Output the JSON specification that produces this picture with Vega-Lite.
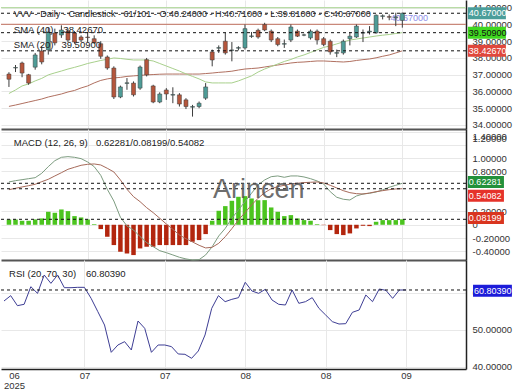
{
"$schema": "https://vega.github.io/schema/vega-lite/v6.json",
"padding": 0,
"autosize": {"type": "pad"},
"background": "white",
"spacing": 0,
"bounds": "flush",
"resolve": {"scale": {"color": "independent"}},
"config": {
  "font": "Liberation Sans",
  "view": {"stroke": null},
  "axis": {"labelFont": "Liberation Sans", "labelFontSize": 9.5, "labelColor": "#333", "ticks": false, "gridColor": "#e8e8e8", "domainColor": "#222", "domainWidth": 1.5, "labelOverlap": false, "labelFlush": false, "labelBound": false}
},
"datasets": {
  "d": [
    {"i":0,"o":37.04,"h":37.15,"l":36.27,"c":36.73,"s20":35.88,"s40":35.11,"m":0.643,"sg":0.527,"hs":0.08,"r":57.83},
    {"i":1,"o":37.40,"h":37.58,"l":37.16,"c":37.43,"s20":36.09,"s40":35.19,"m":0.662,"sg":0.548,"hs":0.08,"r":59.27},
    {"i":2,"o":37.70,"h":37.78,"l":36.85,"c":37.10,"s20":36.33,"s40":35.28,"m":0.677,"sg":0.568,"hs":0.06,"r":56.57},
    {"i":3,"o":37.00,"h":37.05,"l":36.40,"c":36.50,"s20":36.45,"s40":35.37,"m":0.692,"sg":0.587,"hs":0.06,"r":56.93},
    {"i":4,"o":37.45,"h":38.30,"l":37.30,"c":38.18,"s20":36.63,"s40":35.46,"m":0.707,"sg":0.608,"hs":0.08,"r":61.70},
    {"i":5,"o":38.42,"h":38.70,"l":37.62,"c":37.76,"s20":36.78,"s40":35.55,"m":0.773,"sg":0.647,"hs":0.095,"r":59.90},
    {"i":6,"o":38.48,"h":39.80,"l":38.20,"c":39.55,"s20":36.99,"s40":35.67,"m":0.873,"sg":0.683,"hs":0.195,"r":64.86},
    {"i":7,"o":39.49,"h":39.75,"l":38.75,"c":38.90,"s20":37.11,"s40":35.76,"m":0.962,"sg":0.733,"hs":0.18,"r":62.60},
    {"i":8,"o":39.37,"h":39.95,"l":39.20,"c":39.67,"s20":37.22,"s40":35.85,"m":1.013,"sg":0.782,"hs":0.23,"r":64.86},
    {"i":9,"o":39.61,"h":39.75,"l":38.95,"c":39.07,"s20":37.34,"s40":35.97,"m":1.023,"sg":0.833,"hs":0.205,"r":61.43},
    {"i":10,"o":39.49,"h":39.60,"l":38.85,"c":38.95,"s20":37.44,"s40":36.06,"m":1.013,"sg":0.863,"hs":0.13,"r":61.43},
    {"i":11,"o":39.25,"h":39.35,"l":38.95,"c":39.07,"s20":37.55,"s40":36.21,"m":0.993,"sg":0.893,"hs":0.11,"r":61.52},
    {"i":12,"o":39.25,"h":39.55,"l":38.95,"c":39.22,"s20":37.67,"s40":36.33,"m":0.943,"sg":0.908,"hs":0.08,"r":61.52},
    {"i":13,"o":39.15,"h":39.35,"l":38.85,"c":38.90,"s20":37.76,"s40":36.51,"m":0.873,"sg":0.913,"hs":0.01,"r":58.55},
    {"i":14,"o":38.85,"h":39.00,"l":37.95,"c":38.10,"s20":37.85,"s40":36.66,"m":0.743,"sg":0.898,"hs":-0.065,"r":54.95},
    {"i":15,"o":38.06,"h":38.15,"l":37.30,"c":37.40,"s20":37.92,"s40":36.75,"m":0.533,"sg":0.848,"hs":-0.18,"r":51.34},
    {"i":16,"o":37.40,"h":37.50,"l":35.55,"c":35.67,"s20":38.00,"s40":36.81,"m":0.357,"sg":0.793,"hs":-0.305,"r":43.96},
    {"i":17,"o":35.67,"h":36.35,"l":35.60,"c":36.27,"s20":37.97,"s40":36.84,"m":0.113,"sg":0.673,"hs":-0.405,"r":45.94},
    {"i":18,"o":36.48,"h":36.80,"l":36.10,"c":36.52,"s20":37.92,"s40":36.90,"m":-0.018,"sg":0.533,"hs":-0.43,"r":46.84},
    {"i":19,"o":36.50,"h":36.60,"l":35.70,"c":35.80,"s20":37.88,"s40":36.93,"m":-0.078,"sg":0.422,"hs":-0.455,"r":44.59},
    {"i":20,"o":36.20,"h":37.55,"l":36.10,"c":37.46,"s20":37.88,"s40":36.96,"m":-0.178,"sg":0.347,"hs":-0.355,"r":52.42},
    {"i":21,"o":37.90,"h":38.00,"l":36.90,"c":36.99,"s20":37.88,"s40":36.99,"m":-0.268,"sg":0.257,"hs":-0.33,"r":50.44},
    {"i":22,"o":36.33,"h":36.40,"l":35.30,"c":35.37,"s20":37.82,"s40":37.01,"m":-0.329,"sg":0.182,"hs":-0.33,"r":43.96},
    {"i":23,"o":35.37,"h":35.95,"l":35.30,"c":35.85,"s20":37.67,"s40":37.03,"m":-0.389,"sg":0.098,"hs":-0.305,"r":45.94},
    {"i":24,"o":36.09,"h":36.20,"l":35.50,"c":35.85,"s20":37.52,"s40":37.04,"m":-0.419,"sg":0.012,"hs":-0.305,"r":45.94},
    {"i":25,"o":35.78,"h":36.25,"l":35.30,"c":35.82,"s20":37.37,"s40":37.04,"m":-0.453,"sg":-0.068,"hs":-0.305,"r":45.49},
    {"i":26,"o":35.80,"h":35.90,"l":35.10,"c":35.25,"s20":37.22,"s40":37.04,"m":-0.488,"sg":-0.153,"hs":-0.305,"r":43.51},
    {"i":27,"o":35.50,"h":35.60,"l":34.95,"c":35.10,"s20":37.05,"s40":37.04,"m":-0.513,"sg":-0.209,"hs":-0.305,"r":43.42},
    {"i":28,"o":35.06,"h":35.20,"l":34.50,"c":35.10,"s20":36.90,"s40":37.04,"m":-0.529,"sg":-0.258,"hs":-0.255,"r":42.34},
    {"i":29,"o":35.10,"h":35.40,"l":35.00,"c":35.30,"s20":36.75,"s40":37.04,"m":-0.524,"sg":-0.308,"hs":-0.23,"r":44.32},
    {"i":30,"o":35.60,"h":36.50,"l":35.50,"c":36.27,"s20":36.57,"s40":37.07,"m":-0.453,"sg":-0.348,"hs":-0.14,"r":48.64},
    {"i":31,"o":38.36,"h":38.50,"l":37.50,"c":37.88,"s20":36.51,"s40":37.10,"m":-0.329,"sg":-0.338,"hs":0.06,"r":55.85},
    {"i":32,"o":38.58,"h":38.75,"l":38.30,"c":38.62,"s20":36.51,"s40":37.14,"m":-0.168,"sg":-0.278,"hs":0.21,"r":59.27},
    {"i":33,"o":39.00,"h":39.50,"l":38.20,"c":38.30,"s20":36.51,"s40":37.17,"m":-0.053,"sg":-0.178,"hs":0.28,"r":57.65},
    {"i":34,"o":38.45,"h":38.95,"l":37.80,"c":38.48,"s20":36.51,"s40":37.21,"m":0.098,"sg":-0.058,"hs":0.36,"r":58.28},
    {"i":35,"o":38.58,"h":38.70,"l":38.45,"c":38.62,"s20":36.63,"s40":37.28,"m":0.222,"sg":0.072,"hs":0.42,"r":58.73},
    {"i":36,"o":38.60,"h":40.00,"l":38.50,"c":39.75,"s20":36.78,"s40":37.34,"m":0.347,"sg":0.182,"hs":0.43,"r":62.88},
    {"i":37,"o":39.28,"h":39.55,"l":39.20,"c":39.32,"s20":36.93,"s40":37.37,"m":0.473,"sg":0.297,"hs":0.395,"r":60.53},
    {"i":38,"o":39.65,"h":39.75,"l":39.15,"c":39.25,"s20":37.16,"s40":37.40,"m":0.598,"sg":0.398,"hs":0.37,"r":59.90},
    {"i":39,"o":40.00,"h":40.10,"l":39.60,"c":39.67,"s20":37.34,"s40":37.46,"m":0.673,"sg":0.482,"hs":0.37,"r":60.98},
    {"i":40,"o":39.60,"h":39.70,"l":38.95,"c":39.07,"s20":37.49,"s40":37.52,"m":0.722,"sg":0.542,"hs":0.26,"r":58.10},
    {"i":41,"o":39.15,"h":39.25,"l":38.70,"c":38.80,"s20":37.64,"s40":37.58,"m":0.733,"sg":0.572,"hs":0.195,"r":56.93},
    {"i":42,"o":38.82,"h":39.10,"l":38.60,"c":38.86,"s20":37.79,"s40":37.64,"m":0.713,"sg":0.593,"hs":0.13,"r":56.75},
    {"i":43,"o":39.07,"h":40.00,"l":38.95,"c":39.85,"s20":37.91,"s40":37.70,"m":0.733,"sg":0.613,"hs":0.145,"r":60.80},
    {"i":44,"o":39.60,"h":39.70,"l":39.25,"c":39.30,"s20":38.06,"s40":37.74,"m":0.733,"sg":0.623,"hs":0.095,"r":57.20},
    {"i":45,"o":39.36,"h":39.45,"l":39.30,"c":39.38,"s20":38.18,"s40":37.76,"m":0.718,"sg":0.633,"hs":0.07,"r":57.65},
    {"i":46,"o":39.20,"h":39.70,"l":39.10,"c":39.60,"s20":38.33,"s40":37.79,"m":0.692,"sg":0.638,"hs":0.06,"r":58.73},
    {"i":47,"o":39.60,"h":39.70,"l":38.80,"c":39.07,"s20":38.48,"s40":37.82,"m":0.658,"sg":0.643,"hs":0.01,"r":55.85},
    {"i":48,"o":39.15,"h":39.25,"l":38.70,"c":38.80,"s20":38.63,"s40":37.82,"m":0.613,"sg":0.628,"hs":-0.005,"r":54.05},
    {"i":49,"o":39.00,"h":39.10,"l":38.20,"c":38.36,"s20":38.72,"s40":37.80,"m":0.497,"sg":0.593,"hs":-0.08,"r":52.25},
    {"i":50,"o":38.28,"h":38.50,"l":38.05,"c":38.32,"s20":38.84,"s40":37.78,"m":0.413,"sg":0.553,"hs":-0.14,"r":51.61},
    {"i":51,"o":38.30,"h":39.10,"l":38.20,"c":39.00,"s20":38.96,"s40":37.76,"m":0.383,"sg":0.512,"hs":-0.155,"r":51.70},
    {"i":52,"o":39.15,"h":39.55,"l":38.75,"c":39.30,"s20":39.07,"s40":37.79,"m":0.372,"sg":0.482,"hs":-0.13,"r":54.77},
    {"i":53,"o":39.25,"h":40.00,"l":39.20,"c":39.90,"s20":39.13,"s40":37.85,"m":0.432,"sg":0.467,"hs":-0.055,"r":55.40},
    {"i":54,"o":39.48,"h":39.70,"l":38.95,"c":39.52,"s20":39.19,"s40":37.90,"m":0.462,"sg":0.462,"hs":-0.015,"r":59.45},
    {"i":55,"o":39.55,"h":39.90,"l":39.40,"c":39.60,"s20":39.25,"s40":37.94,"m":0.473,"sg":0.477,"hs":-0.02,"r":57.65},
    {"i":56,"o":39.50,"h":40.60,"l":39.45,"c":40.55,"s20":39.31,"s40":38.01,"m":0.492,"sg":0.497,"hs":0.045,"r":61.07},
    {"i":57,"o":40.48,"h":40.60,"l":40.30,"c":40.52,"s20":39.36,"s40":38.10,"m":0.523,"sg":0.512,"hs":0.07,"r":60.71},
    {"i":58,"o":40.47,"h":40.60,"l":40.25,"c":40.43,"s20":39.40,"s40":38.18,"m":0.563,"sg":0.527,"hs":0.07,"r":58.55},
    {"i":59,"o":40.40,"h":40.70,"l":39.90,"c":40.45,"s20":39.46,"s40":38.30,"m":0.593,"sg":0.538,"hs":0.07,"r":60.80},
    {"i":60,"o":40.24,"h":40.71,"l":39.81,"c":40.67,"s20":39.509,"s40":38.4267,"m":0.62281,"sg":0.54082,"hs":0.08199,"r":60.8039}
  ],
  "lv": [{"v":41.0,"k":"g"},{"v":40.0,"k":"b"}],
  "pt": [
    {"v":40.67,"at":40.67,"t":"40.67000","k":"p1"},
    {"v":39.509,"at":39.509,"t":"39.50900","k":"p2"},
    {"v":38.4267,"at":38.4267,"t":"38.42670","k":"p3"}
  ],
  "mt": [
    {"v":0.62281,"at":0.643,"t":"0.62281","k":"m1"},
    {"v":0.54082,"at":0.437,"t":"0.54082","k":"m2"},
    {"v":0.08199,"at":0.102,"t":"0.08199","k":"m3"}
  ],
  "rt": [{"v":60.8039,"at":60.61,"t":"60.80390","k":"r1"}]
},
"vconcat": [
 {
  "width": 465, "height": 129,
  "layer": [
   {"data": {"name": "lv"}, "mark": {"type": "rule", "strokeWidth": 1.2},
    "encoding": {
     "y": {"field": "v", "type": "quantitative", "title": null, "scale": {"domain": [33.76, 41.46], "nice": false, "zero": false},
           "axis": {"orient": "right", "values": [34,35,36,37,38,39,40,41], "format": ".5f", "grid": true, "labelPadding": 6, "labelOverlap": false}},
     "color": {"field": "k", "type": "nominal", "legend": null, "scale": {"domain": ["g","b","p1","p2","p3"], "range": ["#b9dca6","#c9887a","#4a9e9a","#3fd81f","#e0473c"]}}}},
   {"data": {"name": "d"}, "mark": {"type": "line", "color": "#b07060", "strokeWidth": 1},
    "encoding": {
     "x": {"field": "i", "type": "quantitative", "title": null, "scale": {"domain": [-0.45, 68.95], "nice": false, "zero": false},
           "axis": {"values": [12,24,36,48,60], "labels": false, "grid": true, "domainColor": "#555", "domainWidth": 2}},
     "y": {"field": "s40", "type": "quantitative", "title": null, "scale": {"domain": [33.76, 41.46], "nice": false, "zero": false},
           "axis": {"orient": "right", "values": [34,35,36,37,38,39,40,41], "format": ".5f", "grid": true, "labelPadding": 6, "labelOverlap": false}}}},
   {"data": {"name": "d"}, "mark": {"type": "line", "color": "#a8d08c", "strokeWidth": 1},
    "encoding": {
     "x": {"field": "i", "type": "quantitative", "title": null, "scale": {"domain": [-0.45, 68.95], "nice": false, "zero": false},
           "axis": {"values": [12,24,36,48,60], "labels": false, "grid": true, "domainColor": "#555", "domainWidth": 2}},
     "y": {"field": "s20", "type": "quantitative", "title": null, "scale": {"domain": [33.76, 41.46], "nice": false, "zero": false},
           "axis": {"orient": "right", "values": [34,35,36,37,38,39,40,41], "format": ".5f", "grid": true, "labelPadding": 6, "labelOverlap": false}}}},
   {"data": {"values": [{"t": "40.67000"}]}, "mark": {"type": "text", "align": "left", "baseline": "middle", "fontSize": 9, "color": "#8c8ce6"},
    "encoding": {
     "x": {"datum": 58.2, "type": "quantitative", "title": null, "scale": {"domain": [-0.45, 68.95], "nice": false, "zero": false},
           "axis": {"values": [12,24,36,48,60], "labels": false, "grid": true, "domainColor": "#555", "domainWidth": 2}},
     "y": {"datum": 40.39, "type": "quantitative", "title": null, "scale": {"domain": [33.76, 41.46], "nice": false, "zero": false},
           "axis": {"orient": "right", "values": [34,35,36,37,38,39,40,41], "format": ".5f", "grid": true, "labelPadding": 6, "labelOverlap": false}},
     "text": {"field": "t"}}},
   {"data": {"name": "d"}, "mark": {"type": "rule", "color": "#3c3c3c", "strokeWidth": 1},
    "encoding": {
     "x": {"field": "i", "type": "quantitative", "title": null, "scale": {"domain": [-0.45, 68.95], "nice": false, "zero": false},
           "axis": {"values": [12,24,36,48,60], "labels": false, "grid": true, "domainColor": "#555", "domainWidth": 2}},
     "y": {"field": "l", "type": "quantitative", "title": null, "scale": {"domain": [33.76, 41.46], "nice": false, "zero": false},
           "axis": {"orient": "right", "values": [34,35,36,37,38,39,40,41], "format": ".5f", "grid": true, "labelPadding": 6, "labelOverlap": false}},
     "y2": {"field": "h"}}},
   {"data": {"name": "d"}, "mark": {"type": "bar", "size": 4, "stroke": "#3c3c3c", "strokeWidth": 0.5},
    "encoding": {
     "x": {"field": "i", "type": "quantitative", "title": null, "scale": {"domain": [-0.45, 68.95], "nice": false, "zero": false},
           "axis": {"values": [12,24,36,48,60], "labels": false, "grid": true, "domainColor": "#555", "domainWidth": 2}},
     "y": {"field": "o", "type": "quantitative", "title": null, "scale": {"domain": [33.76, 41.46], "nice": false, "zero": false},
           "axis": {"orient": "right", "values": [34,35,36,37,38,39,40,41], "format": ".5f", "grid": true, "labelPadding": 6, "labelOverlap": false}},
     "y2": {"field": "c"},
     "color": {"condition": {"test": "datum.c >= datum.o", "value": "#4e9c97"}, "value": "#b5563c"}}},
   {"data": {"name": "pt"}, "mark": {"type": "rule", "strokeDash": [3,3], "color": "#111", "strokeWidth": 1},
    "encoding": {"y": {"field": "v", "type": "quantitative", "title": null, "scale": {"domain": [33.76, 41.46], "nice": false, "zero": false},
           "axis": {"orient": "right", "values": [34,35,36,37,38,39,40,41], "format": ".5f", "grid": true, "labelPadding": 6, "labelOverlap": false}}}},
   {"data": {"name": "pt"}, "mark": {"type": "rule", "strokeWidth": 12},
    "encoding": {
     "x": {"datum": 70.0, "type": "quantitative", "title": null, "scale": {"domain": [-0.45, 68.95], "nice": false, "zero": false},
           "axis": {"values": [12,24,36,48,60], "labels": false, "grid": true, "domainColor": "#555", "domainWidth": 2}},
     "x2": {"datum": 75.8},
     "y": {"field": "at", "type": "quantitative", "title": null, "scale": {"domain": [33.76, 41.46], "nice": false, "zero": false},
           "axis": {"orient": "right", "values": [34,35,36,37,38,39,40,41], "format": ".5f", "grid": true, "labelPadding": 6, "labelOverlap": false}},
     "color": {"field": "k", "type": "nominal", "legend": null, "scale": {"domain": ["g","b","p1","p2","p3"], "range": ["#b9dca6","#c9887a","#4a9e9a","#3fd81f","#e0473c"]}}}},
   {"data": {"name": "pt"}, "mark": {"type": "text", "align": "left", "baseline": "middle", "fontSize": 9},
    "encoding": {
     "x": {"datum": 70.15, "type": "quantitative", "title": null, "scale": {"domain": [-0.45, 68.95], "nice": false, "zero": false},
           "axis": {"values": [12,24,36,48,60], "labels": false, "grid": true, "domainColor": "#555", "domainWidth": 2}},
     "y": {"field": "at", "type": "quantitative", "title": null, "scale": {"domain": [33.76, 41.46], "nice": false, "zero": false},
           "axis": {"orient": "right", "values": [34,35,36,37,38,39,40,41], "format": ".5f", "grid": true, "labelPadding": 6, "labelOverlap": false}},
     "text": {"field": "t"},
     "color": {"condition": {"test": "datum.k == 'p2'", "value": "#111"}, "value": "white"}}},
   {"data": {"values": [{"t": "VVV - Daily - Candlestick - 61/101 - O:40.24000 - H:40.71000 - L:39.81000 - C:40.67000", "a": "SMA (40)", "b": "38.42670", "c2": "SMA (20)", "d2": "39.50900"}]},
    "layer": [
     {"mark": {"type": "text", "align": "left", "baseline": "middle", "fontSize": 9.1, "color": "#222"},
      "encoding": {
       "x": {"datum": 0.75, "type": "quantitative", "title": null, "scale": {"domain": [-0.45, 68.95], "nice": false, "zero": false},
             "axis": {"values": [12,24,36,48,60], "labels": false, "grid": true, "domainColor": "#555", "domainWidth": 2}},
       "y": {"datum": 40.65, "type": "quantitative", "title": null, "scale": {"domain": [33.76, 41.46], "nice": false, "zero": false},
             "axis": {"orient": "right", "values": [34,35,36,37,38,39,40,41], "format": ".5f", "grid": true, "labelPadding": 6, "labelOverlap": false}},
       "text": {"field": "t"}}},
     {"mark": {"type": "text", "align": "left", "baseline": "middle", "fontSize": 9.5, "color": "#222"},
      "encoding": {
       "x": {"datum": 0.75, "type": "quantitative", "title": null, "scale": {"domain": [-0.45, 68.95], "nice": false, "zero": false},
             "axis": {"values": [12,24,36,48,60], "labels": false, "grid": true, "domainColor": "#555", "domainWidth": 2}},
       "y": {"datum": 39.67, "type": "quantitative", "title": null, "scale": {"domain": [33.76, 41.46], "nice": false, "zero": false},
             "axis": {"orient": "right", "values": [34,35,36,37,38,39,40,41], "format": ".5f", "grid": true, "labelPadding": 6, "labelOverlap": false}},
       "text": {"field": "a"}}},
     {"mark": {"type": "text", "align": "left", "baseline": "middle", "fontSize": 9.5, "color": "#222"},
      "encoding": {
       "x": {"datum": 8.3, "type": "quantitative", "title": null, "scale": {"domain": [-0.45, 68.95], "nice": false, "zero": false},
             "axis": {"values": [12,24,36,48,60], "labels": false, "grid": true, "domainColor": "#555", "domainWidth": 2}},
       "y": {"datum": 39.67, "type": "quantitative", "title": null, "scale": {"domain": [33.76, 41.46], "nice": false, "zero": false},
             "axis": {"orient": "right", "values": [34,35,36,37,38,39,40,41], "format": ".5f", "grid": true, "labelPadding": 6, "labelOverlap": false}},
       "text": {"field": "b"}}},
     {"mark": {"type": "text", "align": "left", "baseline": "middle", "fontSize": 9.5, "color": "#222"},
      "encoding": {
       "x": {"datum": 0.75, "type": "quantitative", "title": null, "scale": {"domain": [-0.45, 68.95], "nice": false, "zero": false},
             "axis": {"values": [12,24,36,48,60], "labels": false, "grid": true, "domainColor": "#555", "domainWidth": 2}},
       "y": {"datum": 38.78, "type": "quantitative", "title": null, "scale": {"domain": [33.76, 41.46], "nice": false, "zero": false},
             "axis": {"orient": "right", "values": [34,35,36,37,38,39,40,41], "format": ".5f", "grid": true, "labelPadding": 6, "labelOverlap": false}},
       "text": {"field": "c2"}}},
     {"mark": {"type": "text", "align": "left", "baseline": "middle", "fontSize": 9.5, "color": "#222"},
      "encoding": {
       "x": {"datum": 8.0, "type": "quantitative", "title": null, "scale": {"domain": [-0.45, 68.95], "nice": false, "zero": false},
             "axis": {"values": [12,24,36,48,60], "labels": false, "grid": true, "domainColor": "#555", "domainWidth": 2}},
       "y": {"datum": 38.78, "type": "quantitative", "title": null, "scale": {"domain": [33.76, 41.46], "nice": false, "zero": false},
             "axis": {"orient": "right", "values": [34,35,36,37,38,39,40,41], "format": ".5f", "grid": true, "labelPadding": 6, "labelOverlap": false}},
       "text": {"field": "d2"}}}
    ]}
  ]
 },
 {
  "width": 465, "height": 131,
  "layer": [
   {"data": {"name": "d"}, "mark": {"type": "bar", "size": 4.5},
    "encoding": {
     "x": {"field": "i", "type": "quantitative", "title": null, "scale": {"domain": [-0.45, 68.95], "nice": false, "zero": false},
           "axis": {"values": [12,24,36,48,60], "labels": false, "grid": true, "domainColor": "#555", "domainWidth": 2}},
     "y": {"field": "hs", "type": "quantitative", "title": null, "scale": {"domain": [-0.529, 1.438], "nice": false, "zero": false},
           "axis": {"orient": "right", "values": [1.4,1.2,1.0,0.8,0.2,0,-0.2,-0.4,-0.6], "grid": true, "labelPadding": 6, "labelOverlap": false,
                    "labelExpr": "datum.value == 0 ? '0' : replace(format(datum.value, '.5f'), '\u2212', '-')",
                    "labelOffset": {"condition": [{"test": "datum.value == 1.4", "value": 5}, {"test": "datum.value == 1.2", "value": -6}, {"test": "datum.value == -0.6", "value": -12}], "value": 0}}},
     "y2": {"datum": 0},
     "color": {"condition": {"test": "datum.hs >= 0", "value": "#4cc41f"}, "value": "#b3260e"}}},
   {"data": {"name": "d"}, "mark": {"type": "line", "color": "#7d9c80", "strokeWidth": 1},
    "encoding": {
     "x": {"field": "i", "type": "quantitative", "title": null, "scale": {"domain": [-0.45, 68.95], "nice": false, "zero": false},
           "axis": {"values": [12,24,36,48,60], "labels": false, "grid": true, "domainColor": "#555", "domainWidth": 2}},
     "y": {"field": "m", "type": "quantitative", "title": null, "scale": {"domain": [-0.529, 1.438], "nice": false, "zero": false},
           "axis": {"orient": "right", "values": [1.4,1.2,1.0,0.8,0.2,0,-0.2,-0.4,-0.6], "grid": true, "labelPadding": 6, "labelOverlap": false,
                    "labelExpr": "datum.value == 0 ? '0' : replace(format(datum.value, '.5f'), '\u2212', '-')",
                    "labelOffset": {"condition": [{"test": "datum.value == 1.4", "value": 5}, {"test": "datum.value == 1.2", "value": -6}, {"test": "datum.value == -0.6", "value": -12}], "value": 0}}}}},
   {"data": {"name": "d"}, "mark": {"type": "line", "color": "#a66a5a", "strokeWidth": 1},
    "encoding": {
     "x": {"field": "i", "type": "quantitative", "title": null, "scale": {"domain": [-0.45, 68.95], "nice": false, "zero": false},
           "axis": {"values": [12,24,36,48,60], "labels": false, "grid": true, "domainColor": "#555", "domainWidth": 2}},
     "y": {"field": "sg", "type": "quantitative", "title": null, "scale": {"domain": [-0.529, 1.438], "nice": false, "zero": false},
           "axis": {"orient": "right", "values": [1.4,1.2,1.0,0.8,0.2,0,-0.2,-0.4,-0.6], "grid": true, "labelPadding": 6, "labelOverlap": false,
                    "labelExpr": "datum.value == 0 ? '0' : replace(format(datum.value, '.5f'), '\u2212', '-')",
                    "labelOffset": {"condition": [{"test": "datum.value == 1.4", "value": 5}, {"test": "datum.value == 1.2", "value": -6}, {"test": "datum.value == -0.6", "value": -12}], "value": 0}}}}},
   {"data": {"name": "mt"}, "mark": {"type": "rule", "strokeDash": [3,3], "color": "#111", "strokeWidth": 1},
    "encoding": {"y": {"field": "v", "type": "quantitative", "title": null, "scale": {"domain": [-0.529, 1.438], "nice": false, "zero": false},
           "axis": {"orient": "right", "values": [1.4,1.2,1.0,0.8,0.2,0,-0.2,-0.4,-0.6], "grid": true, "labelPadding": 6, "labelOverlap": false,
                    "labelExpr": "datum.value == 0 ? '0' : replace(format(datum.value, '.5f'), '\u2212', '-')",
                    "labelOffset": {"condition": [{"test": "datum.value == 1.4", "value": 5}, {"test": "datum.value == 1.2", "value": -6}, {"test": "datum.value == -0.6", "value": -12}], "value": 0}}}}},
   {"data": {"name": "mt"}, "mark": {"type": "rule", "strokeWidth": 12},
    "encoding": {
     "x": {"datum": 70.0, "type": "quantitative", "title": null, "scale": {"domain": [-0.45, 68.95], "nice": false, "zero": false},
           "axis": {"values": [12,24,36,48,60], "labels": false, "grid": true, "domainColor": "#555", "domainWidth": 2}},
     "x2": {"datum": 75.5},
     "y": {"field": "at", "type": "quantitative", "title": null, "scale": {"domain": [-0.529, 1.438], "nice": false, "zero": false},
           "axis": {"orient": "right", "values": [1.4,1.2,1.0,0.8,0.2,0,-0.2,-0.4,-0.6], "grid": true, "labelPadding": 6, "labelOverlap": false,
                    "labelExpr": "datum.value == 0 ? '0' : replace(format(datum.value, '.5f'), '\u2212', '-')",
                    "labelOffset": {"condition": [{"test": "datum.value == 1.4", "value": 5}, {"test": "datum.value == 1.2", "value": -6}, {"test": "datum.value == -0.6", "value": -12}], "value": 0}}},
     "color": {"field": "k", "type": "nominal", "legend": null, "scale": {"domain": ["m1","m2","m3"], "range": ["#23913b","#e5322a","#d9351f"]}}}},
   {"data": {"name": "mt"}, "mark": {"type": "text", "align": "left", "baseline": "middle", "fontSize": 9, "color": "white"},
    "encoding": {
     "x": {"datum": 70.15, "type": "quantitative", "title": null, "scale": {"domain": [-0.45, 68.95], "nice": false, "zero": false},
           "axis": {"values": [12,24,36,48,60], "labels": false, "grid": true, "domainColor": "#555", "domainWidth": 2}},
     "y": {"field": "at", "type": "quantitative", "title": null, "scale": {"domain": [-0.529, 1.438], "nice": false, "zero": false},
           "axis": {"orient": "right", "values": [1.4,1.2,1.0,0.8,0.2,0,-0.2,-0.4,-0.6], "grid": true, "labelPadding": 6, "labelOverlap": false,
                    "labelExpr": "datum.value == 0 ? '0' : replace(format(datum.value, '.5f'), '\u2212', '-')",
                    "labelOffset": {"condition": [{"test": "datum.value == 1.4", "value": 5}, {"test": "datum.value == 1.2", "value": -6}, {"test": "datum.value == -0.6", "value": -12}], "value": 0}}},
     "text": {"field": "t"}}},
   {"data": {"values": [{"w": "Arincen", "a": "MACD (12, 26, 9)", "b": "0.62281/0.08199/0.54082"}]},
    "layer": [
     {"mark": {"type": "text", "align": "center", "baseline": "middle", "fontSize": 27, "color": "#555", "opacity": 0.85},
      "encoding": {
       "x": {"datum": 38.1, "type": "quantitative", "title": null, "scale": {"domain": [-0.45, 68.95], "nice": false, "zero": false},
             "axis": {"values": [12,24,36,48,60], "labels": false, "grid": true, "domainColor": "#555", "domainWidth": 2}},
       "y": {"datum": 0.52, "type": "quantitative", "title": null, "scale": {"domain": [-0.529, 1.438], "nice": false, "zero": false},
             "axis": {"orient": "right", "values": [1.4,1.2,1.0,0.8,0.2,0,-0.2,-0.4,-0.6], "grid": true, "labelPadding": 6, "labelOverlap": false,
                      "labelExpr": "datum.value == 0 ? '0' : replace(format(datum.value, '.5f'), '\u2212', '-')",
                      "labelOffset": {"condition": [{"test": "datum.value == 1.4", "value": 5}, {"test": "datum.value == 1.2", "value": -6}, {"test": "datum.value == -0.6", "value": -12}], "value": 0}}},
       "text": {"field": "w"}}},
     {"mark": {"type": "text", "align": "left", "baseline": "middle", "fontSize": 9.5, "color": "#222"},
      "encoding": {
       "x": {"datum": 0.75, "type": "quantitative", "title": null, "scale": {"domain": [-0.45, 68.95], "nice": false, "zero": false},
             "axis": {"values": [12,24,36,48,60], "labels": false, "grid": true, "domainColor": "#555", "domainWidth": 2}},
       "y": {"datum": 1.228, "type": "quantitative", "title": null, "scale": {"domain": [-0.529, 1.438], "nice": false, "zero": false},
             "axis": {"orient": "right", "values": [1.4,1.2,1.0,0.8,0.2,0,-0.2,-0.4,-0.6], "grid": true, "labelPadding": 6, "labelOverlap": false,
                      "labelExpr": "datum.value == 0 ? '0' : replace(format(datum.value, '.5f'), '\u2212', '-')",
                      "labelOffset": {"condition": [{"test": "datum.value == 1.4", "value": 5}, {"test": "datum.value == 1.2", "value": -6}, {"test": "datum.value == -0.6", "value": -12}], "value": 0}}},
       "text": {"field": "a"}}},
     {"mark": {"type": "text", "align": "left", "baseline": "middle", "fontSize": 9.5, "color": "#222"},
      "encoding": {
       "x": {"datum": 13.28, "type": "quantitative", "title": null, "scale": {"domain": [-0.45, 68.95], "nice": false, "zero": false},
             "axis": {"values": [12,24,36,48,60], "labels": false, "grid": true, "domainColor": "#555", "domainWidth": 2}},
       "y": {"datum": 1.228, "type": "quantitative", "title": null, "scale": {"domain": [-0.529, 1.438], "nice": false, "zero": false},
             "axis": {"orient": "right", "values": [1.4,1.2,1.0,0.8,0.2,0,-0.2,-0.4,-0.6], "grid": true, "labelPadding": 6, "labelOverlap": false,
                      "labelExpr": "datum.value == 0 ? '0' : replace(format(datum.value, '.5f'), '\u2212', '-')",
                      "labelOffset": {"condition": [{"test": "datum.value == 1.4", "value": 5}, {"test": "datum.value == 1.2", "value": -6}, {"test": "datum.value == -0.6", "value": -12}], "value": 0}}},
       "text": {"field": "b"}}}
    ]}
  ]
 },
 {
  "width": 465, "height": 109,
  "layer": [
   {"data": {"name": "d"}, "mark": {"type": "line", "color": "#3d3d94", "strokeWidth": 1},
    "encoding": {
     "x": {"field": "i", "type": "quantitative", "title": null, "scale": {"domain": [-0.45, 68.95], "nice": false, "zero": false},
           "axis": {"values": [0,12,24,36,48,60], "grid": true, "labelPadding": 1, "labelLineHeight": 10, "labelOverlap": false,
                    "labelExpr": "datum.value == 0 ? ['06','2025'] : (datum.value == 12 || datum.value == 24) ? '07' : datum.value == 60 ? '09' : '08'",
                    "gridOpacity": {"condition": {"test": "datum.value == 0", "value": 0}, "value": 1},
                    "labelOffset": {"condition": {"test": "datum.value == 0", "value": 10}, "value": 0}}},
     "y": {"field": "r", "type": "quantitative", "title": null, "scale": {"domain": [39.45, 68.91], "nice": false, "zero": false},
           "axis": {"orient": "right", "values": [40,50,60,70], "format": ".5f", "grid": true, "labelPadding": 6, "labelOverlap": false,
                    "labelOffset": {"condition": {"test": "datum.value == 70", "value": 8}, "value": 0}}}}},
   {"data": {"name": "rt"}, "mark": {"type": "rule", "strokeDash": [3,3], "color": "#111", "strokeWidth": 1},
    "encoding": {"y": {"field": "v", "type": "quantitative", "title": null, "scale": {"domain": [39.45, 68.91], "nice": false, "zero": false},
           "axis": {"orient": "right", "values": [40,50,60,70], "format": ".5f", "grid": true, "labelPadding": 6, "labelOverlap": false,
                    "labelOffset": {"condition": {"test": "datum.value == 70", "value": 8}, "value": 0}}}}},
   {"data": {"name": "rt"}, "mark": {"type": "rule", "strokeWidth": 12},
    "encoding": {
     "x": {"datum": 70.0, "type": "quantitative", "title": null, "scale": {"domain": [-0.45, 68.95], "nice": false, "zero": false},
           "axis": {"values": [0,12,24,36,48,60], "grid": true, "labelPadding": 1, "labelLineHeight": 10, "labelOverlap": false,
                    "labelExpr": "datum.value == 0 ? ['06','2025'] : (datum.value == 12 || datum.value == 24) ? '07' : datum.value == 60 ? '09' : '08'",
                    "gridOpacity": {"condition": {"test": "datum.value == 0", "value": 0}, "value": 1},
                    "labelOffset": {"condition": {"test": "datum.value == 0", "value": 10}, "value": 0}}},
     "x2": {"datum": 75.8},
     "y": {"field": "at", "type": "quantitative", "title": null, "scale": {"domain": [39.45, 68.91], "nice": false, "zero": false},
           "axis": {"orient": "right", "values": [40,50,60,70], "format": ".5f", "grid": true, "labelPadding": 6, "labelOverlap": false,
                    "labelOffset": {"condition": {"test": "datum.value == 70", "value": 8}, "value": 0}}},
     "color": {"field": "k", "type": "nominal", "legend": null, "scale": {"domain": ["r1"], "range": ["#1c1cd9"]}}}},
   {"data": {"name": "rt"}, "mark": {"type": "text", "align": "left", "baseline": "middle", "fontSize": 9, "color": "white"},
    "encoding": {
     "x": {"datum": 70.15, "type": "quantitative", "title": null, "scale": {"domain": [-0.45, 68.95], "nice": false, "zero": false},
           "axis": {"values": [0,12,24,36,48,60], "grid": true, "labelPadding": 1, "labelLineHeight": 10, "labelOverlap": false,
                    "labelExpr": "datum.value == 0 ? ['06','2025'] : (datum.value == 12 || datum.value == 24) ? '07' : datum.value == 60 ? '09' : '08'",
                    "gridOpacity": {"condition": {"test": "datum.value == 0", "value": 0}, "value": 1},
                    "labelOffset": {"condition": {"test": "datum.value == 0", "value": 10}, "value": 0}}},
     "y": {"field": "at", "type": "quantitative", "title": null, "scale": {"domain": [39.45, 68.91], "nice": false, "zero": false},
           "axis": {"orient": "right", "values": [40,50,60,70], "format": ".5f", "grid": true, "labelPadding": 6, "labelOverlap": false,
                    "labelOffset": {"condition": {"test": "datum.value == 70", "value": 8}, "value": 0}}},
     "text": {"field": "t"}}},
   {"data": {"values": [{"a": "RSI (20, 70, 30)", "b": "60.80390"}]},
    "layer": [
     {"mark": {"type": "text", "align": "left", "baseline": "middle", "fontSize": 9.5, "color": "#222"},
      "encoding": {
       "x": {"datum": 0.75, "type": "quantitative", "title": null, "scale": {"domain": [-0.45, 68.95], "nice": false, "zero": false},
             "axis": {"values": [0,12,24,36,48,60], "grid": true, "labelPadding": 1, "labelLineHeight": 10, "labelOverlap": false,
                      "labelExpr": "datum.value == 0 ? ['06','2025'] : (datum.value == 12 || datum.value == 24) ? '07' : datum.value == 60 ? '09' : '08'",
                      "gridOpacity": {"condition": {"test": "datum.value == 0", "value": 0}, "value": 1},
                      "labelOffset": {"condition": {"test": "datum.value == 0", "value": 10}, "value": 0}}},
       "y": {"datum": 65.13, "type": "quantitative", "title": null, "scale": {"domain": [39.45, 68.91], "nice": false, "zero": false},
             "axis": {"orient": "right", "values": [40,50,60,70], "format": ".5f", "grid": true, "labelPadding": 6, "labelOverlap": false,
                      "labelOffset": {"condition": {"test": "datum.value == 70", "value": 8}, "value": 0}}},
       "text": {"field": "a"}}},
     {"mark": {"type": "text", "align": "left", "baseline": "middle", "fontSize": 9.5, "color": "#222"},
      "encoding": {
       "x": {"datum": 12.24, "type": "quantitative", "title": null, "scale": {"domain": [-0.45, 68.95], "nice": false, "zero": false},
             "axis": {"values": [0,12,24,36,48,60], "grid": true, "labelPadding": 1, "labelLineHeight": 10, "labelOverlap": false,
                      "labelExpr": "datum.value == 0 ? ['06','2025'] : (datum.value == 12 || datum.value == 24) ? '07' : datum.value == 60 ? '09' : '08'",
                      "gridOpacity": {"condition": {"test": "datum.value == 0", "value": 0}, "value": 1},
                      "labelOffset": {"condition": {"test": "datum.value == 0", "value": 10}, "value": 0}}},
       "y": {"datum": 65.13, "type": "quantitative", "title": null, "scale": {"domain": [39.45, 68.91], "nice": false, "zero": false},
             "axis": {"orient": "right", "values": [40,50,60,70], "format": ".5f", "grid": true, "labelPadding": 6, "labelOverlap": false,
                      "labelOffset": {"condition": {"test": "datum.value == 70", "value": 8}, "value": 0}}},
       "text": {"field": "b"}}}
    ]}
  ]
 }
]
}
